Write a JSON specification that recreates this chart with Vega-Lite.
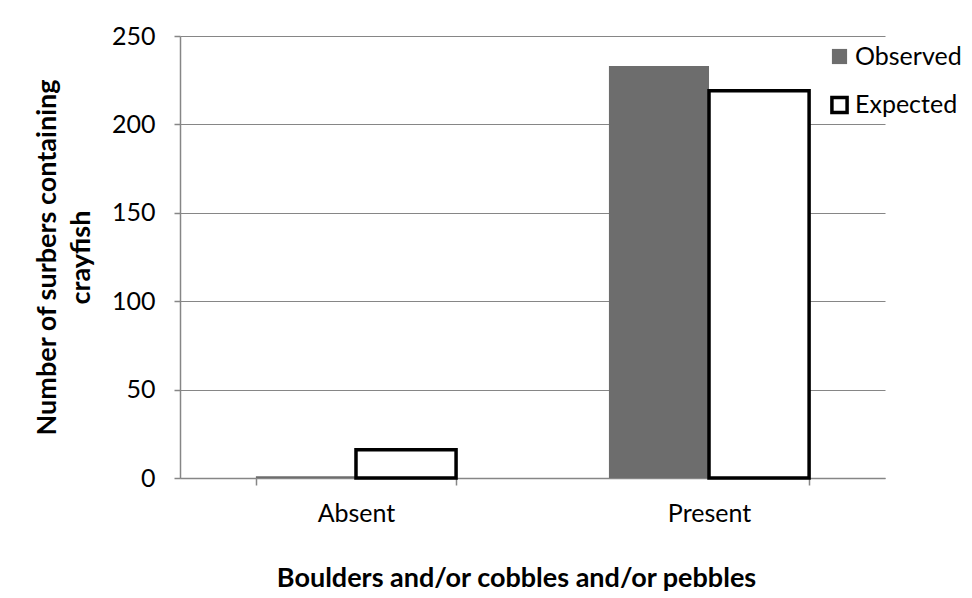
{
  "$schema": "https://vega.github.io/schema/vega-lite/v6.json",
  "width": 705,
  "height": 442,
  "autosize": {"type": "none"},
  "padding": {"left": 180, "top": 36, "right": 87, "bottom": 120},
  "background": "white",
  "config": {
    "font": "Lato",
    "view": {"stroke": null},
    "axis": {
      "labelFont": "Lato",
      "titleFont": "Lato",
      "labelFontSize": 25,
      "titleFontSize": 27,
      "titleFontWeight": "bold",
      "labelColor": "#000000",
      "titleColor": "#000000",
      "domainColor": "#868686",
      "tickColor": "#868686",
      "gridColor": "#868686",
      "domainWidth": 1.5,
      "tickWidth": 1.5,
      "gridWidth": 1.2
    }
  },
  "data": {
    "values": [
      {"boulders": "Absent", "series": "Observed", "count": 1},
      {"boulders": "Absent", "series": "Expected", "count": 16},
      {"boulders": "Present", "series": "Observed", "count": 233},
      {"boulders": "Present", "series": "Expected", "count": 219}
    ]
  },
  "mark": {"type": "bar"},
  "encoding": {
    "x": {
      "field": "boulders",
      "type": "nominal",
      "scale": {"paddingInner": 0.433, "paddingOuter": 0.215},
      "axis": {
        "title": "Boulders and/or cobbles and/or pebbles",
        "labelAngle": 0,
        "tickBand": "extent",
        "tickSize": 7,
        "labelPadding": 16,
        "titleX": 336,
        "titleY": 100,
        "titleBaseline": "middle",
        "titleAlign": "center",
        "grid": false
      }
    },
    "xOffset": {
      "field": "series",
      "type": "nominal",
      "sort": ["Observed", "Expected"],
      "scale": {"paddingInner": 0, "paddingOuter": 0}
    },
    "y": {
      "field": "count",
      "type": "quantitative",
      "scale": {"domain": [0, 250], "nice": false},
      "axis": {
        "title": ["Number of surbers containing", "crayfish"],
        "values": [0, 50, 100, 150, 200, 250],
        "tickSize": 6,
        "labelPadding": 19,
        "grid": true,
        "titleAngle": -90,
        "titleX": -133,
        "titleY": 221,
        "titleAlign": "center",
        "titleBaseline": "middle",
        "titleLineHeight": 34
      }
    },
    "fill": {
      "field": "series",
      "type": "nominal",
      "scale": {"domain": ["Observed", "Expected"], "range": ["#6d6d6d", "#ffffff"]},
      "legend": {
        "title": null,
        "orient": "none",
        "legendX": 647,
        "legendY": 8,
        "symbolType": "square",
        "symbolSize": 230,
        "symbolStrokeWidth": 3,
        "labelFont": "Lato",
        "labelFontSize": 25,
        "labelColor": "#000000",
        "labelLimit": 0,
        "rowPadding": 19.5,
        "labelOffset": 3
      }
    },
    "stroke": {
      "field": "series",
      "type": "nominal",
      "scale": {"domain": ["Observed", "Expected"], "range": ["#6d6d6d", "#000000"]}
    },
    "strokeWidth": {
      "field": "series",
      "type": "nominal",
      "scale": {"domain": ["Observed", "Expected"], "range": [0, 3.5]}
    }
  }
}
